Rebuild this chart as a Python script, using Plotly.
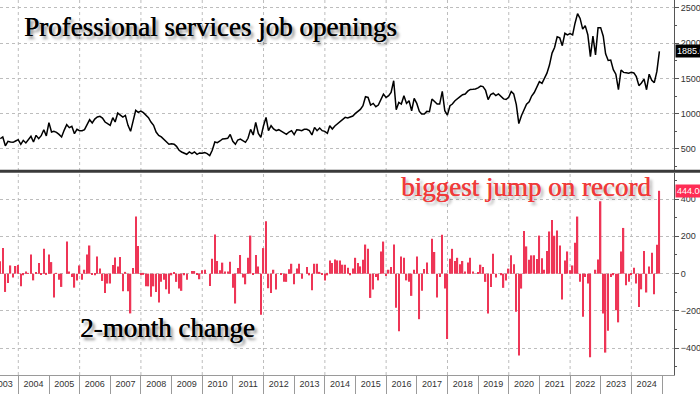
import pandas as pd
import plotly.graph_objects as go

# ---------------- data (monthly, May 2003 .. Nov 2024) ----------------
first_month = "2003-05"
openings = [
    646, 670, 545, 608, 599, 594, 613, 632,
    566, 622, 585, 637, 679, 599, 693, 646, 688, 773, 684, 873,
    740, 750, 736, 707, 670, 764, 844, 802, 821, 717, 778, 759,
    759, 773, 835, 915, 868, 924, 953, 962, 939, 882, 858, 835,
    943, 882, 1009, 976, 953, 976, 835, 750, 906, 1047, 1019, 1038,
    1014, 976, 943, 882, 835, 740, 693, 670, 637, 603, 566, 575,
    566, 537, 481, 457, 443, 424, 457, 434, 457, 424, 443, 438,
    448, 434, 405, 481, 599, 589, 613, 641, 646, 651, 705, 608,
    566, 627, 641, 613, 594, 651, 778, 698, 877, 721, 665, 825,
    948, 759, 830, 783, 759, 773, 750, 736, 707, 740, 759, 703,
    773, 768, 759, 778, 778, 759, 698, 806, 759, 797, 759, 750,
    721, 830, 783, 825, 854, 891, 920, 948, 938, 953, 967, 1004,
    1028, 1061, 1113, 1241, 1231, 1123, 1146, 1099, 1123, 1198, 1278, 1231,
    1255, 1302, 1467, 1057, 1160, 1137, 1255, 1146, 1184, 1042, 1217, 1146,
    1033, 995, 995, 1033, 1028, 1208, 1170, 1137, 1137, 1316, 1042, 981,
    1113, 1137, 1184, 1208, 1241, 1270, 1280, 1320, 1345, 1347, 1350, 1366,
    1392, 1384, 1330, 1200, 1272, 1290, 1257, 1281, 1248, 1210, 1201, 1234,
    1314, 1281, 1130, 860, 970, 1060, 1135, 1170, 1250, 1300, 1370, 1455,
    1430, 1510, 1575, 1690, 1860, 1940, 2090, 2075, 1965, 2140, 2117, 2136,
    2117, 2280, 2420, 2352, 2200, 2250, 2120, 1810, 2100, 1835, 2221, 2221,
    2100, 1850, 1755, 1761, 1625, 1560, 1340, 1620, 1586, 1580, 1575, 1586,
    1578, 1525, 1398, 1436, 1490, 1340, 1560, 1475, 1441, 1600, 1885,
]
change_2m = [
    66, 137, -98, -50, 44, -21, 41, 46,
    -68, -9, 12, 4, 103, -36, 9, 57, -4, 133, -4, 103,
    62, -128, 4, -32, -71, 0, 172, 12, -18, -75, -36, 44,
    -32, 21, 103, 151, -4, -9, 92, 27, -39, -103, -53, -53,
    46, 87, 39, 89, -94, 9, -94, -213, 30, 306, 148, -9,
    -4, -68, -68, -124, -68, -98, -155, -44, -32, -84, -107, -9,
    7, -44, -80, -92, -9, -32, 0, 14, 14, -5, -30, 18,
    21, 0, -66, 80, 210, 68, 18, 59, 11, 11, 64, -75,
    -160, 30, 100, -21, -57, 85, 204, -5, 100, 39, -220, 137,
    281, -78, -103, 21, -85, 0, -5, -44, -44, 23, 53, -57,
    27, 53, -27, 0, 36, -9, -89, 53, 53, 9, -5, -36,
    -9, 71, 57, 76, 71, 70, 48, 48, 32, -9, 27, 85,
    57, 39, 75, 156, 133, -130, -85, -18, -36, 119, 172, -12,
    21, 36, 156, -183, -308, 92, 85, -36, -44, -119, 21, 92,
    -244, -92, 25, 60, 0, 187, 116, -128, -18, 208, -80, -350,
    80, 133, 68, 85, 50, 68, 12, 60, 85, 12, 0, 5,
    48, 36, -44, -213, -71, 107, -21, 0, -9, -76, -36, 27,
    98, 50, -204, -439, -80, 228, 146, 75, 98, 98, 78, 204,
    82, 21, 121, 226, 288, 203, 231, 151, -139, 71, 119, 18,
    44, 165, 306, -44, -231, -18, -53, -448, 0, 21, 76, 388,
    -213, -423, -306, -18, -9, -196, -261, 119, 245, -62, -44, -9,
    32, -53, -178, -84, 121, -101, 39, 112, -110, 155, 444,
]
years = list(range(2003, 2025))
top_ticks = [500, 1000, 1500, 2000, 2500]
bottom_ticks = [-400, -200, 0, 200, 400]
title_text = "Professional services job openings"
lower_text = "2-month change"
note_text = "biggest jump on record"

# month-end dates
dates = (pd.date_range(first_month + "-01", periods=len(openings), freq="MS")
         + pd.offsets.MonthEnd(0))

line_col = "#000000"
bar_col = "#ee3556"
grid_col = "#bdbdbd"
axis_col = "#555555"
tick_font = dict(family="Liberation Sans, Arial, sans-serif", size=9, color="#333333")

fig = go.Figure()
fig.add_trace(go.Scatter(x=dates, y=openings, mode="lines",
                         line=dict(color=line_col, width=1.5),
                         xaxis="x", yaxis="y", showlegend=False, hoverinfo="skip"))
fig.add_trace(go.Bar(x=dates, y=change_2m, marker=dict(color=bar_col, line=dict(width=0)),
                     xaxis="x2", yaxis="y2", showlegend=False, hoverinfo="skip"))

x_range = ["2003-05-28", "2025-05-23"]
mid_years = [f"{y}-07-01" for y in years]
jan_firsts = [f"{y}-01-01" for y in range(2004, 2026)]

fig.update_layout(
    template="none",
    width=700, height=394,
    margin=dict(l=0, r=26, t=0, b=19, autoexpand=False),
    paper_bgcolor="white", plot_bgcolor="white",
    bargap=0.42,
    xaxis=dict(domain=[0, 1], range=x_range, anchor="y", showticklabels=False,
               automargin=False,
               showgrid=False, ticks="", zeroline=False, showline=False),
    xaxis2=dict(domain=[0, 1], range=x_range, matches="x", anchor="y2",
                automargin=False, ticklabeloverflow="allow",
                tickmode="array", tickvals=mid_years, ticktext=[str(y) for y in years],
                ticks="", showgrid=False, zeroline=False,
                showline=True, linecolor="#9a9a9a", linewidth=1,
                tickfont=tick_font,
                minor=dict(tickmode="array", tickvals=jan_firsts, ticks="outside",
                           ticklen=19, tickcolor="#9a9a9a", tickwidth=1, showgrid=False)),
    yaxis=dict(domain=[0.547, 1], range=[203, 2613], side="right", anchor="x",
               automargin=False,
               tickmode="array", tickvals=top_ticks, tickfont=tick_font,
               showgrid=True, gridcolor=grid_col, griddash="dot", gridwidth=1,
               zeroline=False, showline=True, linecolor=axis_col, linewidth=1,
               ticks="outside", ticklen=4, tickcolor=axis_col,
               minor=dict(dtick=250, tick0=0, ticks="outside", ticklen=2,
                          tickcolor=axis_col, showgrid=False)),
    yaxis2=dict(domain=[0, 0.539], range=[-543, 540], side="right", anchor="x2",
                automargin=False,
                tickmode="array", tickvals=bottom_ticks, tickfont=tick_font,
                showgrid=True, gridcolor=grid_col, griddash="dot", gridwidth=1,
                zeroline=False, showline=True, linecolor=axis_col, linewidth=1,
                ticks="outside", ticklen=4, tickcolor=axis_col,
                minor=dict(dtick=100, tick0=0, ticks="outside", ticklen=2,
                           tickcolor=axis_col, showgrid=False)),
)

shapes = []
for y in range(2004, 2025, 2):
    shapes.append(dict(type="line", xref="x", yref="paper", x0=f"{y}-01-01", x1=f"{y}-01-01",
                       y0=0, y1=1, line=dict(color=grid_col, width=1, dash="dot"), layer="below"))
shapes.append(dict(type="line", xref="paper", yref="paper", x0=0, x1=1.04, y0=0.5435, y1=0.5435,
                   line=dict(color="#3a3a3a", width=3)))
fig.update_layout(shapes=shapes)

serif = "Liberation Serif, Times New Roman, serif"
dark_shadow = "0.5px 0 0 #000, 3px 3px 3px rgba(0,0,0,0.45)"
red_shadow = "0.5px 0 0 #f03a3a, 3px 3px 3px rgba(0,0,0,0.3)"
fig.add_annotation(text=title_text, xref="paper", yref="paper", x=22 / 674, y=0.928,
                   xanchor="left", yanchor="middle", showarrow=False,
                   font=dict(family=serif, size=27, color="#000000", shadow=dark_shadow))
fig.add_annotation(text=lower_text, xref="paper", yref="paper", x=78 / 674, y=0.125,
                   xanchor="left", yanchor="middle", showarrow=False,
                   font=dict(family=serif, size=27, color="#000000", shadow=dark_shadow))
fig.add_annotation(text=note_text, xref="paper", yref="paper", x=399 / 674, y=0.501,
                   xanchor="left", yanchor="middle", showarrow=False,
                   font=dict(family=serif, size=27, color="#f03a3a", shadow=red_shadow))

fig.add_annotation(text=f"{openings[-1]:.1f}", xref="paper", yref="y", x=1, y=openings[-1],
                   xanchor="left", yanchor="middle", xshift=1, showarrow=False,
                   bgcolor="#000000", borderpad=1,
                   font=dict(family="Liberation Sans, Arial, sans-serif", size=9, color="white"))
fig.add_annotation(text=f"{change_2m[-1]:.2f}", xref="paper", yref="y2", x=1, y=change_2m[-1],
                   xanchor="left", yanchor="middle", xshift=1, showarrow=False,
                   bgcolor="#ff2d55", borderpad=1,
                   font=dict(family="Liberation Sans, Arial, sans-serif", size=9, color="white"))

fig.write_html("out.html", config={"displayModeBar": False},
               post_script="document.body.style.margin='0';document.body.style.overflow='hidden';")
